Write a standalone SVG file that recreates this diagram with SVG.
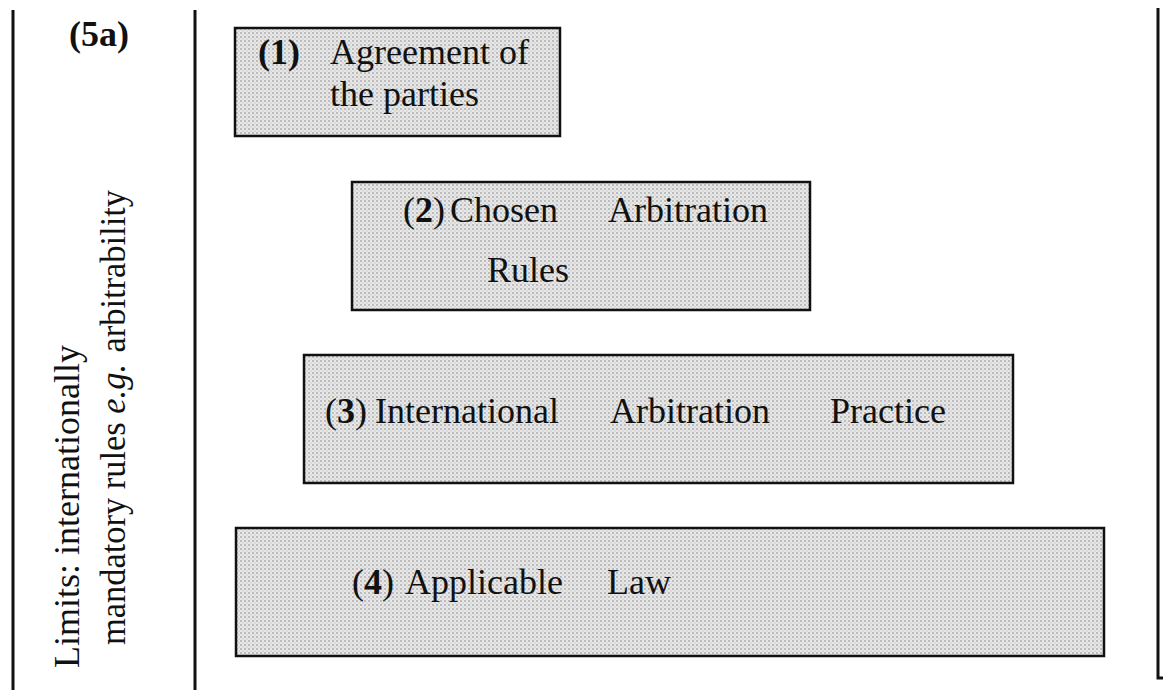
<svg xmlns="http://www.w3.org/2000/svg" width="1172" height="690" viewBox="0 0 1172 690">
<style>
  .t { font-family: "Liberation Serif", "Times New Roman", serif; font-size: 36px; fill: #111; }
  .b { font-weight: bold; }
  .box { fill: url(#dots); stroke: #111; stroke-width: 2.5; }
  .rule { stroke: #111; stroke-width: 3; fill: none; }
</style>
<defs>
  <pattern id="dots" width="4" height="4" patternUnits="userSpaceOnUse">
    <rect width="4" height="4" fill="#e8e8e8"/>
    <circle cx="1" cy="1" r="0.9" fill="#a8a8a8"/>
    <circle cx="3" cy="3" r="0.7" fill="#c2c2c2"/>
  </pattern>
</defs>
<rect width="1172" height="690" fill="#ffffff"/>

<g id="frame">
  <line class="rule" x1="13" y1="10" x2="13" y2="690"/>
  <line class="rule" x1="195" y1="10" x2="195" y2="690"/>
  <polyline class="rule" points="1158,8 1158,678 1163,678"/>
</g>

<g id="limits">
  <text class="t b" x="99" y="46" text-anchor="middle">(5a)</text>
  <text class="t" transform="translate(79,668) rotate(-90)">Limits: internationally</text>
  <text class="t" transform="translate(125,645) rotate(-90)" textLength="455" lengthAdjust="spacingAndGlyphs">mandatory rules <tspan font-style="italic">e.g.</tspan><tspan dx="12">arbitrability</tspan></text>
</g>

<g id="node1">
  <rect class="box" x="235" y="28" width="325" height="108"/>
  <text class="t b" x="258" y="64">(1)</text>
  <text class="t" x="330" y="64">Agreement of</text>
  <text class="t" x="330" y="106">the parties</text>
</g>

<g id="node2">
  <rect class="box" x="352" y="182" width="458" height="128"/>
  <text class="t" x="403" y="222">(<tspan class="b">2</tspan>)</text>
  <text class="t" x="450" y="222">Chosen</text>
  <text class="t" x="608" y="222">Arbitration</text>
  <text class="t" x="487" y="282">Rules</text>
</g>

<g id="node3">
  <rect class="box" x="304" y="355" width="709" height="128"/>
  <text class="t" x="325" y="423">(<tspan class="b">3</tspan>)</text>
  <text class="t" x="375" y="423">International</text>
  <text class="t" x="610" y="423">Arbitration</text>
  <text class="t" x="830" y="423">Practice</text>
</g>

<g id="node4">
  <rect class="box" x="236" y="528" width="868" height="128"/>
  <text class="t" x="352" y="594">(<tspan class="b">4</tspan>)</text>
  <text class="t" x="405" y="594">Applicable</text>
  <text class="t" x="607" y="594">Law</text>
</g>

<g id="connectors"></g>
</svg>
